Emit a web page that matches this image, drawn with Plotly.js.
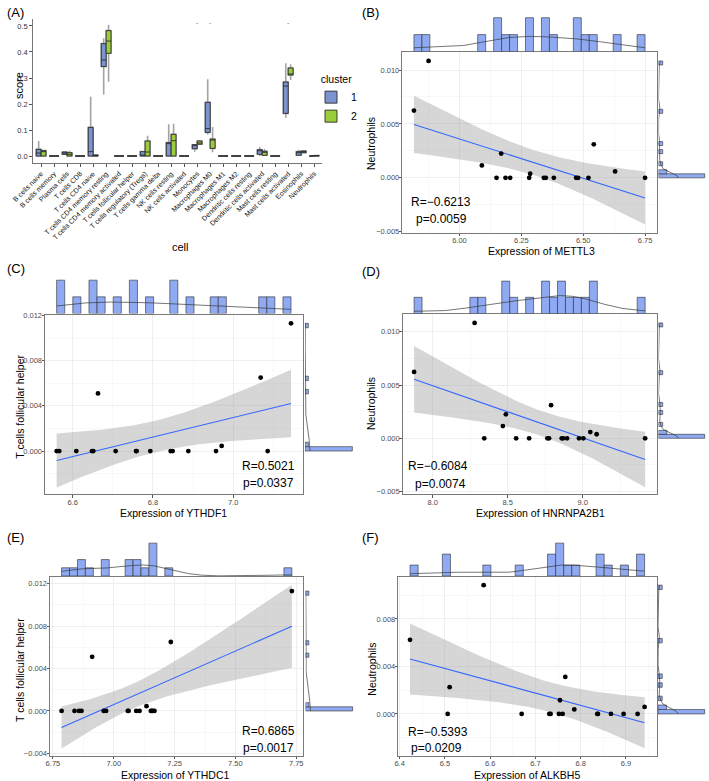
<!DOCTYPE html>
<html><head><meta charset="utf-8">
<script src="https://cdn.plot.ly/plotly-3.0.1.min.js"></script>
<style>html,body{margin:0;padding:0;background:#fff}#chart{width:709px;height:781px}</style>
</head><body><div id="chart"></div>
<script>
// ---------- Panel A : immune cell scores by cluster (box summaries) ----------
const cells = ['B cells naive','B cells memory','Plasma cells','T cells CD8','T cells CD4 naive','T cells CD4 memory resting','T cells CD4 memory activated','T cells follicular helper','T cells regulatory (Tregs)','T cells gamma delta','NK cells resting','NK cells activated','Monocytes','Macrophages M0','Macrophages M1','Macrophages M2','Dendritic cells resting','Dendritic cells activated','Mast cells resting','Mast cells activated','Eosinophils','Neutrophils'];
const c1Low  = [0,0,0.004,0,0,0.237,0,0,0,0,0,0,0.016,0.083,0,0,0,0,0,0.147,0,0];
const c1Q1   = [0,0,0.0065,0,0,0.344,0,0,0,0,0,0,0.028,0.091,0,0,0,0.0065,0,0.164,0.003,0];
const c1Med  = [0.0115,0,0.0115,0,0.0167,0.369,0,0,0.001,0,0.050,0,0.041,0.105,0,0,0,0.022,0,0.269,0.0128,0];
const c1Q3   = [0.0256,0,0.0154,0,0.110,0.432,0,0,0.0167,0,0.0513,0,0.0435,0.2065,0,0,0,0.024,0,0.2846,0.0167,0];
const c1High = [0.0577,0,0.0179,0,0.228,0.4526,0,0,0.0167,0,0.122,0,0.046,0.295,0,0,0,0.035,0,0.3565,0.024,0];
const c2Low  = [0,0,0,0,0,0.286,0,0,0,0,0,0,0.044,0.014,0,0,0,0,0,0.292,0.010,0];
const c2Q1   = [0,0,0,0,0,0.395,0,0,0,0,0,0,0.0455,0.0295,0,0,0,0.0027,0,0.3115,0.0128,0];
const c2Med  = [0.020,0,0.0064,0,0.0013,0.442,0,0,0.0154,0,0.059,0,0.050,0.0615,0,0,0,0.0154,0,0.314,0.0167,0.001];
const c2Q3   = [0.0205,0,0.0128,0,0.0038,0.482,0,0,0.0577,0,0.0833,0,0.0577,0.065,0,0,0,0.018,0,0.3385,0.0192,0.002];
const c2High = [0.0218,0,0.0205,0,0.005,0.504,0,0,0.078,0,0.124,0,0.062,0.1115,0,0,0,0.027,0,0.3526,0.022,0.002];
const sigCells = ['Monocytes','Macrophages M0','Mast cells activated'];

// ---------- Panels B-F : scatter data ----------
const mettl3    = [5.8160,5.8752,6.0905,6.1498,6.1686,6.1861,6.2049,6.2817,6.2857,6.3409,6.3490,6.3813,6.4714,6.4795,6.5212,6.5428,6.6289,6.7500];
const neutroB   = [0.00624,0.01084,0.00115,0,0.00225,0,0,0,0.00038,0,0,0,0,0,0,0.00311,0.00059,0];
const ythdf1    = [6.5600,6.5666,6.6090,6.6480,6.6514,6.6630,6.7070,6.7577,6.7593,6.7934,6.8440,6.8490,6.8881,6.9570,6.9711,7.0683,7.0857,7.1439];
const tfhC      = [0,0,0,0,0,0.0051,0,0,0,0,0,0,0,0,0.00045,0.0065,0,0.0113];
const hnrnpa2b1 = [7.8760,8.2795,8.3439,8.4680,8.4880,8.5567,8.6432,8.7651,8.7762,8.7895,8.8605,8.8693,8.8960,8.9758,9.0047,9.0512,9.0933,9.4170];
const neutroD   = [0.00624,0.01084,0,0.00115,0.00225,0,0,0,0,0.00311,0,0,0,0,0,0.00059,0.00038,0];
const ythdc1    = [6.7856,6.8388,6.8570,6.8674,6.9112,6.9587,6.9685,7.0577,7.0610,7.0925,7.1060,7.1346,7.1526,7.1567,7.1608,7.1673,7.2345,7.7320];
const tfhE      = [0,0,0,0,0.0051,0,0,0,0,0,0,0.00045,0,0,0,0,0.0065,0.0113];
const alkbh5    = [6.4229,6.5061,6.5105,6.5856,6.6696,6.7307,6.7336,6.7520,6.7543,6.7601,6.7660,6.7859,6.8367,6.8382,6.8669,6.8949,6.9258,6.9413];
const neutroF   = [0.00624,0,0.00225,0.01084,0,0,0,0,0.00115,0,0.00311,0.00038,0,0,0,0,0,0.00059];
const statR = ['R=\u22120.6213','R=0.5021','R=\u22120.6084','R=0.6865','R=\u22120.5393'];
const statP = ['p=0.0059','p=0.0337','p=0.0074','p=0.0017','p=0.0209'];

// ---------- helpers ----------
const W=709,H=781;
const px=v=>v/W, py=v=>1-v/H;
const mean=a=>a.reduce((s,v)=>s+v,0)/a.length;
const sdev=a=>{const m=mean(a);return Math.sqrt(a.reduce((s,v)=>s+(v-m)*(v-m),0)/(a.length-1));};
function quant(a,p){const s=[...a].sort((x,y)=>x-y);const h=(s.length-1)*p;const lo=Math.floor(h);const hi=Math.min(lo+1,s.length-1);return s[lo]+(h-lo)*(s[hi]-s[lo]);}
function bw(a){const hi=sdev(a);let lo=Math.min(hi,(quant(a,.75)-quant(a,.25))/1.34);if(!(lo>0))lo=hi||Math.abs(a[0])||1;return 0.9*lo*Math.pow(a.length,-0.2);}
function kde(a){const h=bw(a);const mn=Math.min(...a),mx=Math.max(...a);const g=[],d=[];for(let i=0;i<512;i++){const t=mn+(mx-mn)*i/511;let s=0;for(const v of a){const z=(t-v)/h;s+=Math.exp(-0.5*z*z);}g.push(t);d.push(s/(a.length*h*Math.sqrt(2*Math.PI)));}return {g,d};}
function histo(a,nb){const mn=Math.min(...a),mx=Math.max(...a);const w=(mx-mn)/nb;const c=new Array(nb).fill(0);a.forEach(v=>{let k=Math.floor((v-mn)/w+1e-9);if(k>=nb)k=nb-1;if(k<0)k=0;c[k]++;});const ctr=[],den=[];c.forEach((n,k)=>{if(n>0){ctr.push(mn+(k+0.5)*w);den.push(n/(a.length*w));}});return {ctr,den,w};}
function tq(df){const z=1.959964,z2=z*z;return z*(1+(z2+1)/(4*df)+(5*z2*z2+16*z2+3)/(96*df*df));}
function fit(x,y){const n=x.length,mx=mean(x),my=mean(y);let sxx=0,sxy=0;for(let i=0;i<n;i++){sxx+=(x[i]-mx)**2;sxy+=(x[i]-mx)*(y[i]-my);}const b=sxy/sxx,a=my-b*mx;let sse=0;for(let i=0;i<n;i++)sse+=(y[i]-a-b*x[i])**2;const s=Math.sqrt(sse/(n-2)),t=tq(n-2);const lo0=Math.min(...x),hi0=Math.max(...x);const gx=[],fy=[],lo=[],up=[];for(let i=0;i<80;i++){const xv=lo0+(hi0-lo0)*i/79;const f=a+b*xv;const se=s*Math.sqrt(1/n+(xv-mx)**2/sxx);gx.push(xv);fy.push(f);lo.push(f-t*se);up.push(f+t*se);}return {gx,fy,lo,up};}

const HIST_FILL='#8FAAF2', HIST_LINE='#2e2e2e', DENS_LINE='#3a3a3a';
const FAM='Liberation Sans, Arial, sans-serif';
const tickFont={family:FAM,size:7.5,color:'#4D4D4D'};
const txtFont=(s,c)=>({family:FAM,size:s,color:c||'#000'});

const data=[];
const layout={width:W,height:H,margin:{l:0,r:0,t:0,b:0},paper_bgcolor:'#fff',plot_bgcolor:'#fff',
  showlegend:true,hovermode:false,boxmode:'group',boxgap:0.25,boxgroupgap:0,annotations:[],
  legend:{x:px(311),y:py(69),xanchor:'left',yanchor:'top',itemwidth:30,bgcolor:'rgba(0,0,0,0)',
    title:{text:'cluster',font:txtFont(10.5),side:'top center'},font:txtFont(10.5),tracegroupgap:0}};

// ---------- Panel A ----------
const A={l:33.3,r:322,t:18.5,b:163};
layout.xaxis={domain:[px(A.l),px(A.r)],anchor:'y',type:'category',range:[-0.6,21.6],showline:true,linecolor:'#777',linewidth:1,
  ticks:'outside',ticklen:3,tickcolor:'#555',tickangle:-45,tickfont:txtFont(7,'#111'),showgrid:false,zeroline:false};
layout.yaxis={domain:[py(A.b),py(A.t)],anchor:'x',range:[-0.0269,0.5288],dtick:0.1,tick0:0,tickformat:'.1f',showline:true,linecolor:'#777',linewidth:1,
  ticks:'outside',ticklen:3,tickcolor:'#555',tickfont:txtFont(7.5,'#333'),showgrid:false,zeroline:false};
const boxSets=[['1',c1Low,c1Q1,c1Med,c1Q3,c1High,'#7C93D1'],['2',c2Low,c2Q1,c2Med,c2Q3,c2High,'#9CCD3A']];
boxSets.forEach(([nm,lw,q1,md,q3,hi,col])=>{
  data.push({type:'box',x:cells,q1:q1,median:md,q3:q3,lowerfence:lw,upperfence:hi,offsetgroup:nm,name:nm,showlegend:false,
    fillcolor:'rgba(0,0,0,0)',line:{color:'#A3A3A3',width:1.6},whiskerwidth:0,boxpoints:false,xaxis:'x',yaxis:'y'});
});
boxSets.forEach(([nm,lw,q1,md,q3,hi,col])=>{
  data.push({type:'box',x:cells,q1:q1,median:md,q3:q3,lowerfence:q1,upperfence:q3,offsetgroup:nm,name:nm,showlegend:true,
    fillcolor:col,line:{color:'#2a2a2a',width:0.9},whiskerwidth:0,boxpoints:false,xaxis:'x',yaxis:'y'});
});
sigCells.forEach(c=>layout.annotations.push({x:c,y:0.512,xref:'x',yref:'y',text:'-',showarrow:false,font:txtFont(7,'#777')}));

// ---------- Panels B-F ----------
const panels=[
 {x:mettl3,y:neutroB,m:{l:402.3,r:656.7,t:51.7,b:232.7},tp:{t:16,b:51.5},rt:{l:658.5,r:707},xr:[5.769,6.797],yr:[-0.00509,0.0117],xd:0.25,xf:'.2f',yd:0.005},
 {x:ythdf1,y:tfhC,m:{l:45,r:302.7,t:315,b:494.3},tp:{t:278.5,b:313.5},rt:{l:305,r:354.7},xr:[6.531,7.173],yr:[-0.00383,0.01204],xd:0.2,xf:'.1f',yd:0.004},
 {x:hnrnpa2b1,y:neutroD,m:{l:402.7,r:656.7,t:314.3,b:494.3},tp:{t:279.5,b:313.5},rt:{l:658.5,r:707},xr:[7.80,9.494],yr:[-0.00526,0.01165],xd:0.5,xf:'.1f',yd:0.005},
 {x:ythdc1,y:tfhE,m:{l:50,r:303.3,t:577.3,b:755.5},tp:{t:541.5,b:576},rt:{l:305.5,r:355},xr:[6.738,7.779],yr:[-0.0042,0.0126],xd:0.25,xf:'.2f',yd:0.004},
 {x:alkbh5,y:neutroF,m:{l:398.3,r:656.7,t:577.3,b:755.5},tp:{t:541.5,b:576},rt:{l:658,r:707},xr:[6.397,6.968],yr:[-0.0035,0.0115],xd:0.1,xf:'.1f',yd:0.004}
];
panels.forEach((p,i)=>{
  const a=2+i*3,b=a+1,c=a+2;
  const X='x'+a,Y='y'+a,Xt='x'+b,Yt='y'+b,Xr='x'+c,Yr='y'+c;
  const xdom=[px(p.m.l),px(p.m.r)],ydom=[py(p.m.b),py(p.m.t)];
  const common={showline:true,mirror:true,linecolor:'#7A7A7A',linewidth:1,ticks:'outside',ticklen:2.5,tickcolor:'#555',
    tickfont:tickFont,ticklabelstandoff:-2,showgrid:true,gridcolor:'#EBEBEB',gridwidth:0.8,zeroline:false,tick0:0};
  layout['xaxis'+a]=Object.assign({},common,{domain:xdom,anchor:Y,range:p.xr,dtick:p.xd,tickformat:p.xf,
    minor:{dtick:p.xd/2,tick0:0,showgrid:true,gridcolor:'#F4F4F4',gridwidth:0.6,ticks:''}});
  layout['yaxis'+a]=Object.assign({},common,{domain:ydom,anchor:X,range:p.yr,dtick:p.yd,tickformat:'.3f',
    minor:{dtick:p.yd/2,tick0:0,showgrid:true,gridcolor:'#F4F4F4',gridwidth:0.6,ticks:''}});
  const f=fit(p.x,p.y);
  data.push({type:'scatter',mode:'lines',x:f.gx.concat([...f.gx].reverse()),y:f.up.concat([...f.lo].reverse()),fill:'toself',
    fillcolor:'rgba(153,153,153,0.4)',line:{width:0,color:'rgba(0,0,0,0)'},showlegend:false,xaxis:X,yaxis:Y});
  data.push({type:'scatter',mode:'lines',x:f.gx,y:f.fy,line:{color:'#3366FF',width:1.1},showlegend:false,xaxis:X,yaxis:Y});
  data.push({type:'scatter',mode:'markers',x:p.x,y:p.y,marker:{color:'#000',size:4.8},showlegend:false,xaxis:X,yaxis:Y});
  const hx=histo(p.x,29),kx=kde(p.x);
  const mxT=Math.max(...hx.den,...kx.d)*1.05;
  data.push({type:'bar',x:hx.ctr,y:hx.den,width:hx.w,marker:{color:HIST_FILL,line:{color:HIST_LINE,width:0.6}},showlegend:false,xaxis:Xt,yaxis:Yt});
  data.push({type:'scatter',mode:'lines',x:kx.g,y:kx.d,line:{color:DENS_LINE,width:0.7},showlegend:false,xaxis:Xt,yaxis:Yt});
  layout['xaxis'+b]={domain:xdom,anchor:Yt,range:p.xr,visible:false};
  layout['yaxis'+b]={domain:[py(p.tp.b),py(p.tp.t)],anchor:Xt,range:[0,mxT],visible:false};
  const hy=histo(p.y,29),ky=kde(p.y);
  const mxR=Math.max(...hy.den,...ky.d)*1.05;
  data.push({type:'bar',orientation:'h',y:hy.ctr,x:hy.den,width:hy.w,marker:{color:HIST_FILL,line:{color:HIST_LINE,width:0.6}},showlegend:false,xaxis:Xr,yaxis:Yr});
  data.push({type:'scatter',mode:'lines',x:ky.d,y:ky.g,line:{color:DENS_LINE,width:0.7},showlegend:false,xaxis:Xr,yaxis:Yr});
  layout['xaxis'+c]={domain:[px(p.rt.l),px(p.rt.r)],anchor:Yr,range:[0,mxR],visible:false};
  layout['yaxis'+c]={domain:ydom,anchor:Xr,range:p.yr,visible:false};
});

// ---------- text ----------
function ann(t,x,y,s,o){layout.annotations.push(Object.assign({text:t,x:px(x),y:py(y),xref:'paper',yref:'paper',showarrow:false,xanchor:'center',yanchor:'middle',font:txtFont(s)},o||{}));}
[['(A)',5,12],['(B)',360,12],['(C)',5,268],['(D)',360,271],['(E)',5,537],['(F)',360,537]].forEach(([t,x,y])=>ann(t,x,y,13,{xanchor:'left'}));
ann('score',19,86,11,{textangle:-90});
ann('cell',180,247,11);
const xTitles=[['Expression of METTL3',541.7,251],['Expression of YTHDF1',173.3,512.5],['Expression of HNRNPA2B1',540,512.5],['Expression of YTHDC1',175,774.5],['Expression of ALKBH5',527,774.5]];
const yTitles=[['Neutrophils',371.7,143.3],['T cells follicular helper',20,406.7],['Neutrophils',371.7,403.3],['T cells follicular helper',20,670],['Neutrophils',371.7,669]];
xTitles.forEach(([t,x,y])=>ann(t,x,y,10.5));
yTitles.forEach(([t,x,y])=>ann(t,x,y,10.5,{textangle:-90}));
const statPos=[[441,201.7,441,219],[268,465.7,268,483.3],[438.3,466,440,483.7],[268.3,730.7,268.3,748.3],[437.7,732,436.7,748]];
statPos.forEach((q,i)=>{ann(statR[i],q[0],q[1],12);ann(statP[i],q[2],q[3],12);});

Plotly.newPlot('chart',data,layout,{displayModeBar:false,staticPlot:true});
</script></body></html>
